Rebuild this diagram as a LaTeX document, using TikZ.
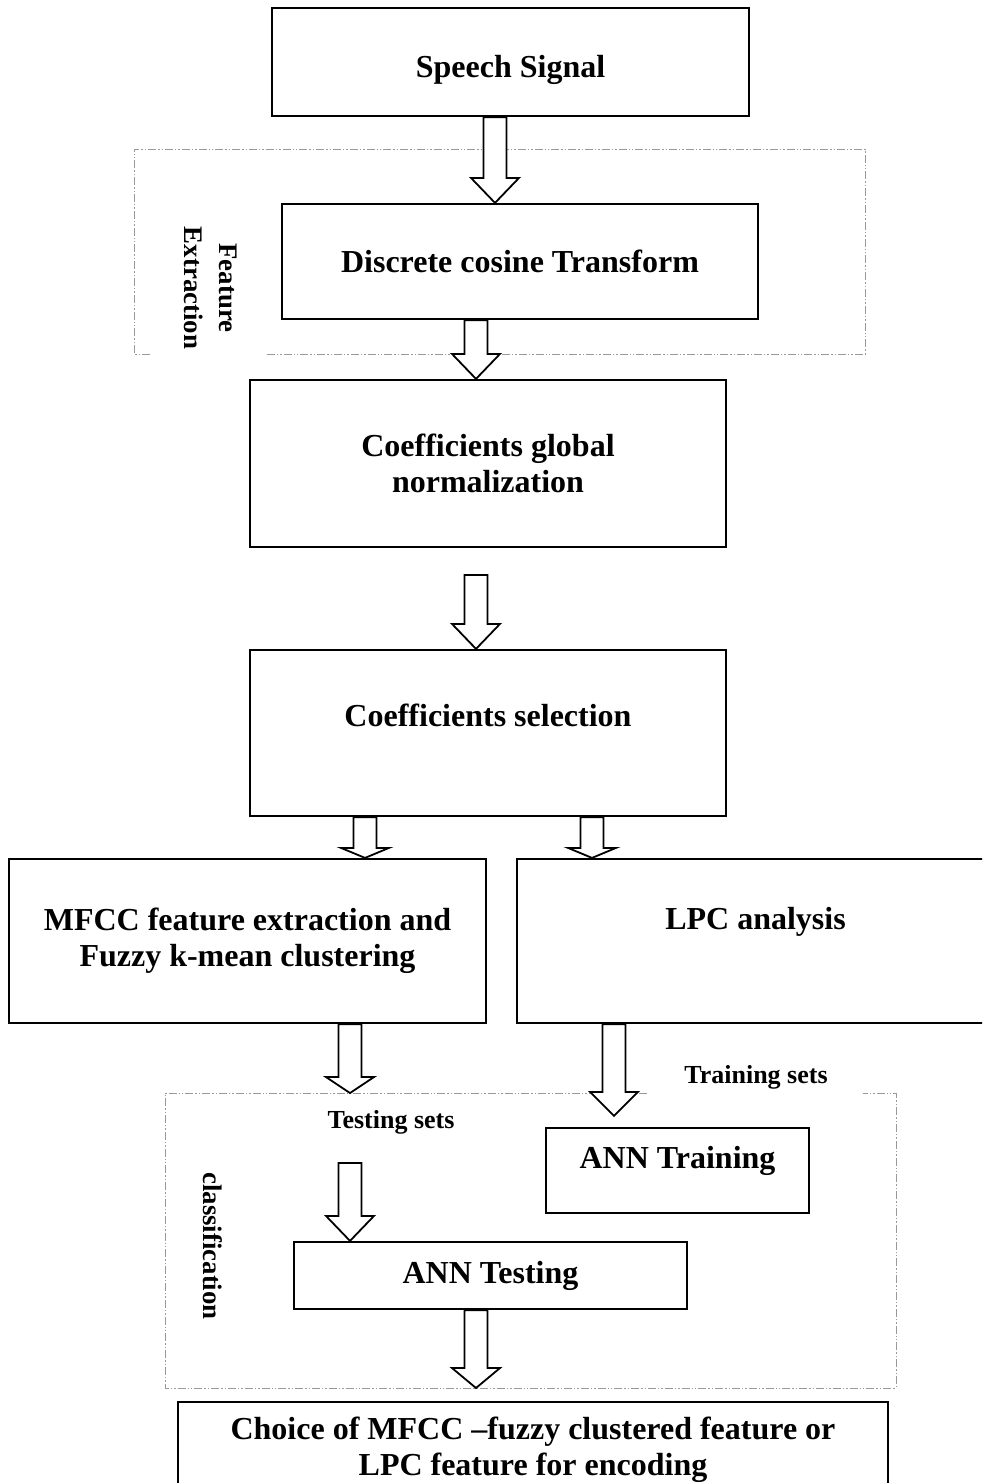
\documentclass[tikz,border=0pt]{standalone}
\usepackage{fontspec}
\setmainfont{Liberation Serif}
\usetikzlibrary{calc}

% hollow block arrow: [head length]{x}{tail}{tip}
\newcommand{\fatarrow}[4][12.5pt]{%
  \draw[fat] let \p0=(#2,0), \p1=(#3), \p2=(#4) in
    (\x0-5.75pt,\y1) -- (\x0-5.75pt,\y2+#1) -- (\x0-12pt,\y2+#1) -- (\x0,\y2)
    -- (\x0+12pt,\y2+#1) -- (\x0+5.75pt,\y2+#1) -- (\x0+5.75pt,\y1) -- cycle;}

\begin{document}
\begin{tikzpicture}[x=0.5pt, y=-0.5pt, every node/.style={font=\bfseries\fontsize{16}{18}\selectfont}]
    % Define styles
    \tikzstyle{box} = [rectangle, draw, line width=1.1pt, fill=white, align=center, inner sep=0pt]
    \tikzstyle{fat} = [draw, fill=white, line width=0.9pt, line join=miter]
    \tikzstyle{frame} = [draw=gray!80, line width=0.5pt,
                         dash pattern=on 4pt off 1pt on 0.7pt off 1pt on 0.7pt off 1pt]
    \tikzstyle{small} = [font=\bfseries\fontsize{13}{16}\selectfont, align=center]
    \tikzstyle{side} = [font=\bfseries\fontsize{13.4}{17.5}\selectfont, align=center, rotate=-90]

    \useasboundingbox (0,0) rectangle (982,1483);
    \clip (0,0) rectangle (982,1483);

    % Feature extraction part
    \draw[frame] (150,354) -- (134,354) -- (134,149) -- (865,149) -- (865,354) -- (267,354);
    \node[side] (felbl) at (211,288) {Feature\\Extraction};

    \node[box, minimum width=238.5pt, minimum height=54pt,
          label={[yshift=-4pt]center:Speech Signal}] (speech) at (510.5,62) {};
    \node[box, minimum width=238pt, minimum height=57.5pt] (dct) at (520,261.5) {Discrete cosine Transform};
    \node[box, minimum width=238pt, minimum height=83.5pt] (norm) at (488,463.5) {Coefficients global\\normalization};
    \node[box, minimum width=238pt, minimum height=83pt,
          label={[yshift=9pt]center:Coefficients selection}] (sel) at (488,733) {};

    % MFCC / LPC branches
    \node[box, minimum width=238.5pt, minimum height=82pt] (mfcc) at (247.5,941) {MFCC feature extraction and\\Fuzzy k-mean clustering};
    \node[box, minimum width=238.5pt, minimum height=82pt,
          label={[yshift=9.5pt]center:LPC analysis}] (lpc) at (755.5,941) {};

    % Classification part
    \coordinate (cltop) at (165,1093);
    \coordinate (clbot) at (165,1388);
    \draw[frame] (647,1093) -- (165,1093) -- (165,1388) -- (896,1388) -- (896,1093) -- (863,1093);
    \node[side] (cllbl) at (213,1246) {classification};
    \node[small] (testset) at (391,1122) {Testing sets};
    \node[small] (trainset) at (756,1077) {Training sets};

    \node[box, minimum width=131.5pt, minimum height=42.5pt,
          label={[yshift=5pt]center:ANN Training}] (train) at (677.5,1170.5) {};
    \node[box, minimum width=196.5pt, minimum height=33.5pt] (test) at (490.5,1275.5) {ANN Testing};
    \node[box, minimum width=355pt, minimum height=48pt] (choice) at (533,1450) {Choice of MFCC –fuzzy clustered feature or\\LPC feature for encoding};

    % Block arrows
    \coordinate (selin) at (476,575);
    \coordinate (testin) at (350,1163);
    \fatarrow{495}{speech.south}{dct.north}
    \fatarrow{476}{dct.south}{norm.north}
    \fatarrow{476}{selin}{sel.north}
    \fatarrow[5pt]{365}{sel.south}{mfcc.north}
    \fatarrow[5pt]{592}{sel.south}{lpc.north}
    \fatarrow[8pt]{350}{mfcc.south}{cltop}
    \fatarrow[12pt]{614}{lpc.south}{$(train.north)+(0,-11)$}
    \fatarrow{350}{testin}{test.north}
    \fatarrow[10pt]{476}{test.south}{clbot}
\end{tikzpicture}
\end{document}
